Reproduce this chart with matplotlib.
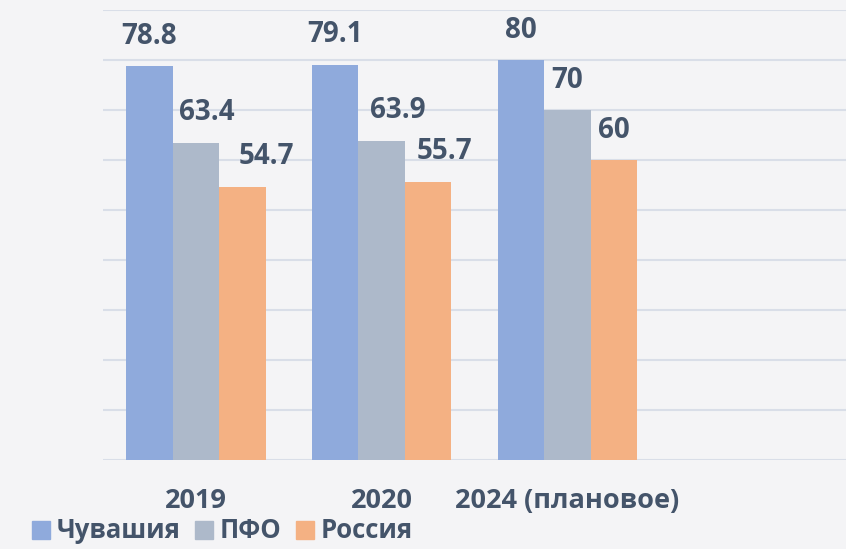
import matplotlib.pyplot as plt
from matplotlib.patches import Patch
import numpy as np

# data
categories = ["2019", "2020", "2024 (плановое)"]
chuvashia = [78.8, 79.1, 80]
pfo = [63.4, 63.9, 70]
russia = [54.7, 55.7, 60]
series_names = ["Чувашия", "ПФО", "Россия"]

# styling
colors = ["#8FAADC", "#ADB9CA", "#F4B183"]
text_color = "#44546A"
grid_color = "#D9DEE8"
# label x-nudges in points (labels were dragged by hand in the original)
label_dx = [[0, 8, 17], [0, 11.5, 12], [0, 0, 0]]

plt.rcParams['font.family'] = ['Open Sans', 'DejaVu Sans']

fig = plt.figure(figsize=(8.46, 5.49), dpi=100)
fig.patch.set_facecolor("#F4F4F6")
ax = fig.add_axes([103 / 846, 1 - 460 / 549, 1 - 103 / 846, 450 / 549])
ax.set_facecolor("none")

x = np.arange(len(categories))
width = 0.25
all_series = [chuvashia, pfo, russia]
for i, vals in enumerate(all_series):
    xs = x + (i - 1) * width
    ax.bar(xs, vals, width, color=colors[i], zorder=3, label=series_names[i])
    for j, v in enumerate(vals):
        ax.annotate(f"{v:g}", (xs[j], v), xytext=(label_dx[j][i], 21.6),
                    textcoords="offset points", ha="center", va="center",
                    fontsize=20, fontweight="bold", color=text_color, zorder=4)

ax.set_xlim(-0.5, 3.5)
ax.set_ylim(0, 90)
ax.set_yticks(np.arange(0, 91, 10))
ax.yaxis.grid(True, color=grid_color, linewidth=1.5, zorder=0)
ax.set_yticklabels([])
ax.set_xticks(x)
ax.set_xticklabels(categories, fontsize=19.5, fontweight="bold", color=text_color)
ax.tick_params(axis="both", length=0)
ax.tick_params(axis="x", pad=20)
for s in ax.spines.values():
    s.set_visible(False)

handles = [Patch(color=c) for c in colors]
fig.legend(handles, series_names, loc="center left", bbox_to_anchor=(32 / 846, 1 - 531 / 549),
           ncol=3, frameon=False, borderaxespad=0, borderpad=0,
           handlelength=0.7, handleheight=0.7, handletextpad=0.27, columnspacing=0.55,
           prop={"family": ["Open Sans", "DejaVu Sans"], "weight": "bold", "size": 18.5},
           labelcolor=text_color)

fig.savefig("out.png", dpi=100, facecolor=fig.get_facecolor())
